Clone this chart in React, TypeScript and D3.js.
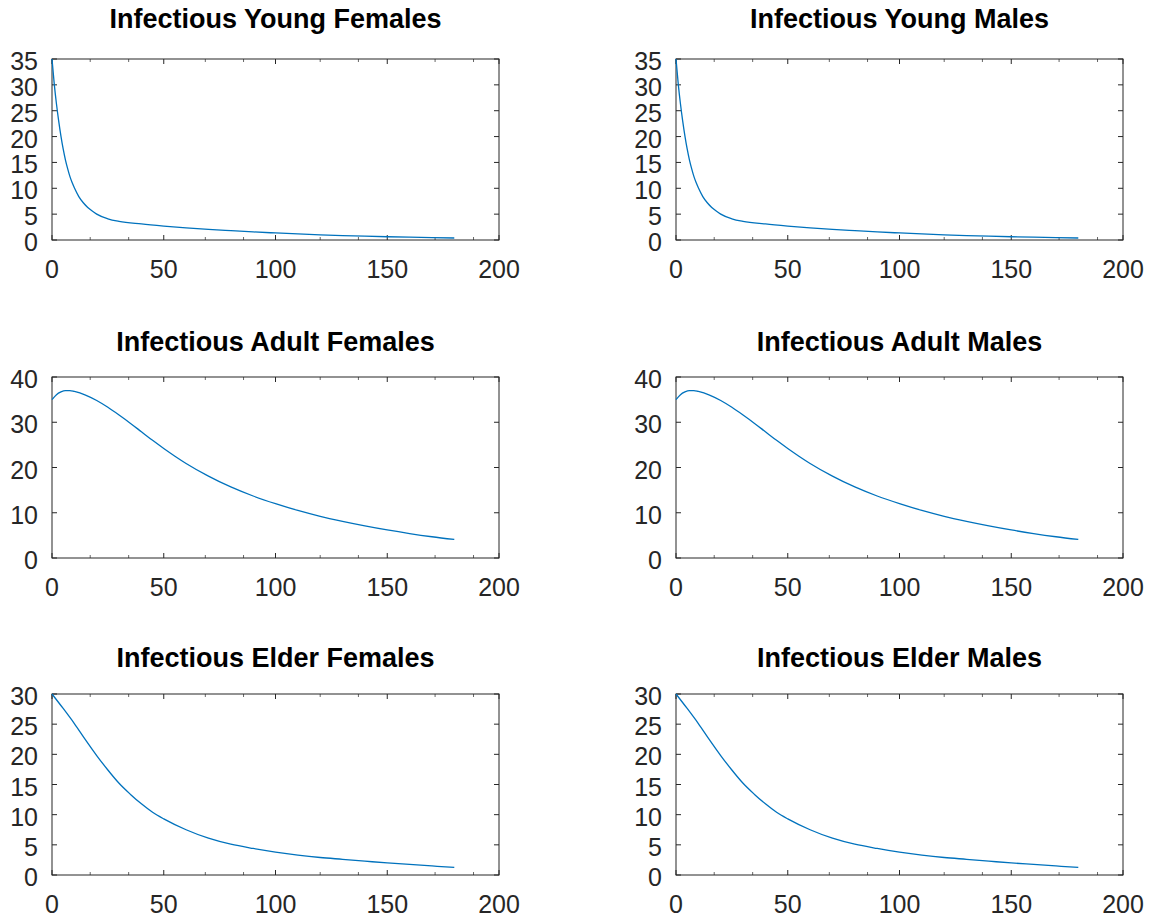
import React, { useRef, useEffect } from "react";
import * as d3 from "d3";

// time points (days) and the curves
const youngDays = [0, 1, 2, 3, 4, 5, 6, 7, 8, 9, 10, 12, 14, 16, 18, 20, 25, 30, 40, 50, 60, 70, 80, 90, 100, 110, 120, 130, 140, 150, 160, 170, 180];
const youngValues = [35, 30.2, 26.3, 23, 20.1, 17.6, 15.5, 13.8, 12.3, 11.1, 10.1, 8.4, 7.2, 6.3, 5.6, 5.0, 4.1, 3.6, 3.1, 2.7, 2.35, 2.05, 1.8, 1.56, 1.36, 1.17, 1.0, 0.86, 0.74, 0.63, 0.54, 0.46, 0.39];

const adultDays = [0, 2, 4, 6, 8, 10, 15, 20, 25, 30, 35, 40, 45, 50, 55, 60, 70, 80, 90, 100, 110, 120, 130, 140, 150, 160, 170, 180];
const adultValues = [35, 36.1, 36.7, 37, 37, 36.8, 36.0, 34.8, 33.3, 31.6, 29.8, 27.9, 26.0, 24.2, 22.5, 20.9, 18.1, 15.7, 13.7, 12.0, 10.5, 9.2, 8.1, 7.1, 6.2, 5.4, 4.7, 4.1];

const elderDays = [0, 5, 10, 15, 20, 25, 30, 35, 40, 45, 50, 60, 70, 80, 90, 100, 110, 120, 130, 140, 150, 160, 170, 180];
const elderValues = [30, 27.6, 25.1, 22.4, 19.8, 17.4, 15.2, 13.4, 11.8, 10.4, 9.3, 7.5, 6.1, 5.1, 4.4, 3.8, 3.3, 2.9, 2.6, 2.3, 2.0, 1.75, 1.5, 1.25];

const titles = [
  "Infectious Young Females", "Infectious Young Males",
  "Infectious Adult Females", "Infectious Adult Males",
  "Infectious Elder Females", "Infectious Elder Males",
];

const xTicks = [0, 50, 100, 150, 200];
const xMinorTicks = [17.1, 34.3, 68.6, 85.7, 120, 137.1, 171.4, 188.6];
const youngTicks = [0, 5, 10, 15, 20, 25, 30, 35];
const adultTicks = [0, 10, 20, 30, 40];
const elderTicks = [0, 5, 10, 15, 20, 25, 30];

const panels = [
  { title: titles[0], days: youngDays, values: youngValues, yTicks: youngTicks, col: 0, row: 0 },
  { title: titles[1], days: youngDays, values: youngValues, yTicks: youngTicks, col: 1, row: 0 },
  { title: titles[2], days: adultDays, values: adultValues, yTicks: adultTicks, col: 0, row: 1 },
  { title: titles[3], days: adultDays, values: adultValues, yTicks: adultTicks, col: 1, row: 1 },
  { title: titles[4], days: elderDays, values: elderValues, yTicks: elderTicks, col: 0, row: 2 },
  { title: titles[5], days: elderDays, values: elderValues, yTicks: elderTicks, col: 1, row: 2 },
];

const width = 1157;
const height = 922;
const colLeft = [52, 676];
const rowTop = [59, 377, 694];
const titleY = [28, 351, 667];
const plotW = 447;
const plotH = 181;
const axisColor = "#262626";
const font = "'Liberation Sans', Arial, Helvetica, sans-serif";

const App = () => {
  const container = useRef(null);

  useEffect(() => {
    const svg = d3.select(container.current);
    svg.selectAll("*").remove();

    panels.forEach(p => {
      const left = colLeft[p.col];
      const top = rowTop[p.row];
      const g = svg.append("g").attr("transform", `translate(${left}, ${top})`);

      const x = d3.scaleLinear().domain([0, 200]).range([0, plotW]);
      const y = d3.scaleLinear().domain([0, d3.max(p.yTicks)]).range([plotH, 0]);

      // box
      g.append("rect")
        .attr("x", 0)
        .attr("y", 0)
        .attr("width", plotW)
        .attr("height", plotH)
        .attr("fill", "white")
        .attr("stroke", axisColor)
        .attr("stroke-width", 1);

      // x ticks, bottom and top, pointing inward
      xTicks.forEach(t => {
        g.append("line").attr("x1", x(t)).attr("x2", x(t)).attr("y1", plotH).attr("y2", plotH - 5).attr("stroke", axisColor);
        g.append("line").attr("x1", x(t)).attr("x2", x(t)).attr("y1", 0).attr("y2", 5).attr("stroke", axisColor);
      });
      xMinorTicks.forEach(t => {
        g.append("line").attr("x1", x(t)).attr("x2", x(t)).attr("y1", plotH).attr("y2", plotH - 3).attr("stroke", axisColor).attr("stroke-opacity", 0.7);
        g.append("line").attr("x1", x(t)).attr("x2", x(t)).attr("y1", 0).attr("y2", 3).attr("stroke", axisColor).attr("stroke-opacity", 0.7);
      });
      p.yTicks.forEach(t => {
        g.append("line").attr("x1", 0).attr("x2", 5).attr("y1", y(t)).attr("y2", y(t)).attr("stroke", axisColor);
        g.append("line").attr("x1", plotW).attr("x2", plotW - 5).attr("y1", y(t)).attr("y2", y(t)).attr("stroke", axisColor);
      });

      // tick labels
      g.selectAll(".xlab")
        .data(xTicks)
        .enter()
        .append("text")
        .attr("x", d => x(d))
        .attr("y", plotH + 38)
        .attr("text-anchor", "middle")
        .style("font-family", font)
        .style("font-size", "25px")
        .style("fill", axisColor)
        .text(d => d);

      g.selectAll(".ylab")
        .data(p.yTicks)
        .enter()
        .append("text")
        .attr("x", -14)
        .attr("y", d => y(d) + 11)
        .attr("text-anchor", "end")
        .style("font-family", font)
        .style("font-size", "25px")
        .style("fill", axisColor)
        .text(d => d);

      // curve
      const line = d3
        .line()
        .x((d, i) => x(p.days[i]))
        .y(d => y(d))
        .curve(d3.curveMonotoneX);

      g.append("path")
        .datum(p.values)
        .attr("d", line)
        .attr("fill", "none")
        .attr("stroke", "#0072BD")
        .attr("stroke-width", 1.3);

      // title
      svg.append("text")
        .attr("x", left + plotW / 2)
        .attr("y", titleY[p.row])
        .attr("text-anchor", "middle")
        .style("font-family", font)
        .style("font-weight", "bold")
        .style("font-size", "27px")
        .style("fill", "black")
        .text(p.title);
    });
  }, []);

  return (
    <svg
      ref={container}
      width={width}
      height={height}
      style={{ position: "absolute", left: 0, top: 0, background: "white" }}
    />
  );
};

export default App;
